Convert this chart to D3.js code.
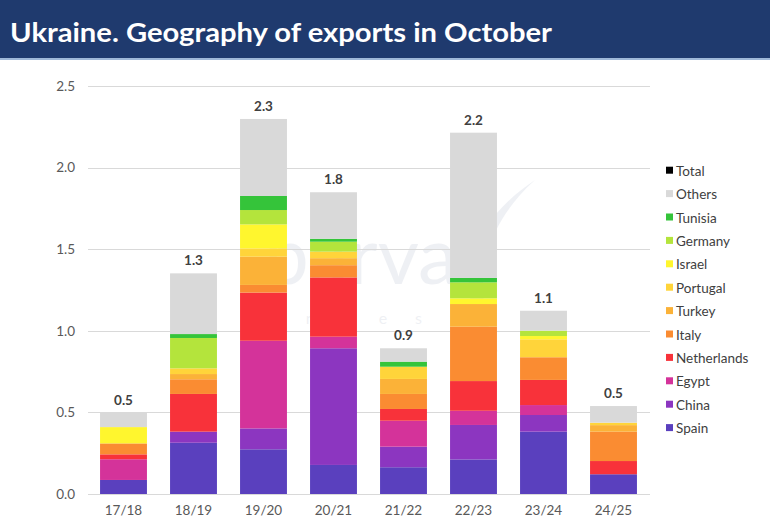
<!DOCTYPE html>
<html>
<head>
<meta charset="utf-8">
<script src="https://cdn.jsdelivr.net/npm/d3@7/dist/d3.min.js"></script>
<style>
  html, body { margin: 0; padding: 0; background: #fff; }
  svg { display: block; }
</style>
</head>
<body>
<svg id="chart" width="770" height="525"></svg>
<script>
// ---- Data ----
const categories = ["17/18", "18/19", "19/20", "20/21", "21/22", "22/23", "23/24", "24/25"];
const seriesNames = ["Spain", "China", "Egypt", "Netherlands", "Italy", "Turkey", "Portugal", "Israel", "Germany", "Tunisia", "Others"];
const Spain       = [0.086, 0.314, 0.274, 0.178, 0.164, 0.212, 0.382, 0.121];
const China       = [0.000, 0.068, 0.128, 0.715, 0.126, 0.211, 0.102, 0.000];
const Egypt       = [0.127, 0.000, 0.537, 0.071, 0.159, 0.087, 0.061, 0.000];
const Netherlands = [0.030, 0.231, 0.295, 0.363, 0.072, 0.182, 0.154, 0.081];
const Italy       = [0.067, 0.090, 0.047, 0.075, 0.092, 0.333, 0.139, 0.180];
const Turkey      = [0.000, 0.032, 0.173, 0.043, 0.092, 0.139, 0.000, 0.040];
const Portugal    = [0.000, 0.035, 0.051, 0.040, 0.075, 0.000, 0.110, 0.015];
const Israel      = [0.100, 0.000, 0.147, 0.000, 0.000, 0.035, 0.020, 0.000];
const Germany     = [0.000, 0.186, 0.088, 0.061, 0.000, 0.098, 0.033, 0.000];
const Tunisia     = [0.000, 0.024, 0.086, 0.018, 0.031, 0.027, 0.000, 0.000];
const Others      = [0.088, 0.372, 0.472, 0.285, 0.082, 0.890, 0.122, 0.102];
const totalLabels = ["0.5", "1.3", "2.3", "1.8", "0.9", "2.2", "1.1", "0.5"];
const yTicks = [0, 0.5, 1.0, 1.5, 2.0, 2.5];
const legendNames = ["Total", "Others", "Tunisia", "Germany", "Israel", "Portugal", "Turkey", "Italy", "Netherlands", "Egypt", "China", "Spain"];
const title = "Ukraine. Geography of exports in October";

const seriesValues = { Spain, China, Egypt, Netherlands, Italy, Turkey, Portugal, Israel, Germany, Tunisia, Others };
const colors = {
  Total: "#000000",
  Others: "#d9d9d9",
  Tunisia: "#35c43a",
  Germany: "#b4e43c",
  Israel: "#fff62e",
  Portugal: "#ffd43a",
  Turkey: "#fbb238",
  Italy: "#fa8c32",
  Netherlands: "#f8323a",
  Egypt: "#d4339a",
  China: "#8c36c0",
  Spain: "#5a40be"
};

// ---- Build table ----
const table = categories.map((c, i) => {
  const row = { cat: c };
  seriesNames.forEach(s => row[s] = seriesValues[s][i]);
  return row;
});

const svg = d3.select("#chart");
const font = "Lato, 'Open Sans', sans-serif";

// Header
svg.append("rect").attr("x", 0).attr("y", 0).attr("width", 770).attr("height", 58).attr("fill", "#1f3a6e");
svg.append("rect").attr("x", 0).attr("y", 58).attr("width", 770).attr("height", 2).attr("fill", "#9fb8d8");
svg.append("text")
  .attr("x", 10).attr("y", 42)
  .attr("font-family", font).attr("font-weight", 700).attr("font-size", 27)
  .attr("fill", "#ffffff")
  .attr("textLength", 542).attr("lengthAdjust", "spacingAndGlyphs")
  .text(title);

// Scales
const x = d3.scaleBand().domain(categories).range([88.5, 648.5]).paddingInner(0.33).paddingOuter(0.165);
const y = d3.scaleLinear().domain([0, 2.5]).range([494, 86]);

// Watermark
const wm = svg.append("g").attr("opacity", 0.07).attr("fill", "#1f3a6e");
wm.append("path").attr("d", "M 535 180 C 460 230 450 300 498 352 C 470 290 480 230 535 180 Z");
wm.append("text").attr("x", 264).attr("y", 284).attr("font-family", font).attr("font-size", 80)
  .attr("font-weight", 400).text("barva");
wm.append("text").attr("x", 274).attr("y", 324).attr("font-family", font).attr("font-size", 16)
  .attr("letter-spacing", 28).text("invest");

// Gridlines
svg.append("g").selectAll("line").data(yTicks).join("line")
  .attr("x1", 88).attr("x2", 650)
  .attr("y1", d => Math.round(y(d)) + 0.5).attr("y2", d => Math.round(y(d)) + 0.5)
  .attr("stroke", "#d9d9d9").attr("stroke-width", 1);

// Y axis labels
const yAxis = d3.axisLeft(y).tickValues(yTicks).tickFormat(d3.format(".1f")).tickSize(0).tickPadding(0);
const yg = svg.append("g").attr("transform", "translate(75,0)").call(yAxis);
yg.select(".domain").remove();
yg.selectAll("text").attr("font-family", font).attr("font-size", 13.5).attr("fill", "#595959");

// X axis labels
const xAxis = d3.axisBottom(x).tickSize(0).tickPadding(0);
const xg = svg.append("g").attr("transform", "translate(0,505)").call(xAxis);
xg.select(".domain").remove();
xg.selectAll("text").attr("font-family", font).attr("font-size", 13.5).attr("fill", "#595959");

// Stacked bars
const stack = d3.stack().keys(seriesNames);
const layers = stack(table);
svg.append("g").selectAll("g").data(layers).join("g")
  .attr("fill", d => colors[d.key])
  .selectAll("rect").data(d => d).join("rect")
  .attr("x", d => x(d.data.cat))
  .attr("width", x.bandwidth())
  .attr("y", d => y(d[1]))
  .attr("height", d => Math.max(0, y(d[0]) - y(d[1])));

// Totals
const totals = table.map(r => d3.sum(seriesNames, s => r[s]));
svg.append("g").selectAll("text").data(categories).join("text")
  .attr("x", c => x(c) + x.bandwidth() / 2)
  .attr("y", (c, i) => y(totals[i]) - 8)
  .attr("text-anchor", "middle")
  .attr("font-family", font).attr("font-weight", 700).attr("font-size", 13.5)
  .attr("fill", "#404040")
  .text((c, i) => totalLabels[i]);

// Legend
const lg = svg.append("g").selectAll("g").data(legendNames).join("g")
  .attr("transform", (d, i) => `translate(666, ${170.7 + i * 23.4})`);
lg.append("rect").attr("x", 0).attr("y", -4).attr("width", 7).attr("height", 7).attr("fill", d => colors[d]);
lg.append("text").attr("x", 10).attr("y", 5)
  .attr("font-family", font).attr("font-size", 13.5).attr("fill", "#404040")
  .text(d => d);
</script>
</body>
</html>
